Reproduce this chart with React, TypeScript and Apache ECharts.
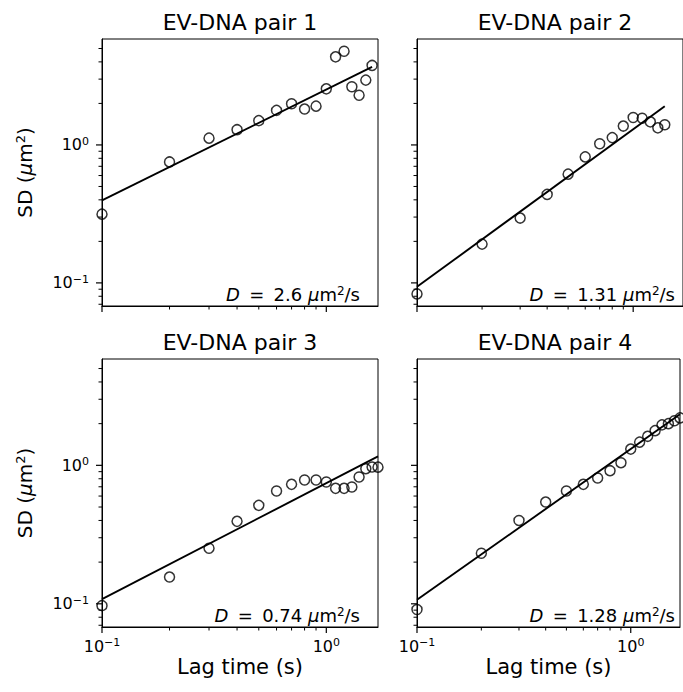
import React, { useEffect, useRef } from "react";
import * as echarts from "echarts";

// ---- data ----
const lagTimes = [0.1, 0.2, 0.3, 0.4, 0.5, 0.6, 0.7, 0.8, 0.9, 1.0, 1.1, 1.2, 1.3, 1.4, 1.5, 1.6, 1.7];
const pairTitles = ["EV-DNA pair 1", "EV-DNA pair 2", "EV-DNA pair 3", "EV-DNA pair 4"];
const diffusionLabels = ["2.6", "1.31", "0.74", "1.28"];
const sdPair1 = [0.315, 0.753, 1.12, 1.29, 1.5, 1.78, 1.99, 1.82, 1.91, 2.55, 4.35, 4.78, 2.64, 2.29, 2.95, 3.77];
const sdPair2 = [0.0832, 0.191, 0.295, 0.438, 0.614, 0.819, 1.02, 1.13, 1.37, 1.58, 1.56, 1.47, 1.33, 1.4];
const sdPair3 = [0.097, 0.156, 0.252, 0.394, 0.514, 0.652, 0.729, 0.783, 0.783, 0.758, 0.682, 0.682, 0.697, 0.823, 0.946, 0.973, 0.97];
const sdPair4 = [0.091, 0.232, 0.4, 0.543, 0.652, 0.729, 0.81, 0.915, 1.045, 1.31, 1.47, 1.62, 1.78, 1.96, 2.0, 2.1, 2.2];
const fitTimes = [[0.1, 1.6], [0.1, 1.4], [0.1, 1.7], [0.1, 1.7]];
const fitValues = [[0.396, 3.68], [0.0936, 1.91], [0.108, 1.16], [0.107, 2.34]];
const xMajorTicks = [0.1, 1];
const xMinorTicks = [0.2, 0.3, 0.4, 0.5, 0.6, 0.7, 0.8, 0.9];
const yMajorTicks = [0.1, 1];
const yMinorTicks = [0.07, 0.08, 0.09, 0.2, 0.3, 0.4, 0.5, 0.6, 0.7, 0.8, 0.9, 2, 3, 4, 5];
const xRange = [0.1, 1.7];
const yRange = [0.068, 5.86];

const FONT = '"DejaVu Sans", sans-serif';
const GRIDS = [
  { left: 102, top: 39, width: 276, height: 267 },
  { left: 417, top: 39, width: 276, height: 267 },
  { left: 102, top: 359, width: 276, height: 268 },
  { left: 417, top: 359, width: 276, height: 268 },
];

const powLabel = (v: number) => {
  const l = Math.log10(v);
  const r = Math.round(l);
  if (Math.abs(l - r) > 1e-6) return "";
  return `{b|10}{s|${r < 0 ? "\u2212" + -r : r}}`;
};
const labelRich = {
  b: { fontSize: 16, fontFamily: FONT, color: "#000" },
  s: { fontSize: 11, fontFamily: FONT, color: "#000", verticalAlign: "top", padding: [0, 0, 7, 0] },
};
const nameRich = {
  n: { fontSize: 20, fontFamily: FONT, color: "#000" },
  i: { fontSize: 20, fontFamily: FONT, color: "#000", fontStyle: "italic" },
  s: { fontSize: 13, fontFamily: FONT, color: "#000", verticalAlign: "top", padding: [0, 0, 8, 0] },
};

export default function App() {
  const ref = useRef<HTMLDivElement>(null);
  useEffect(() => {
    if (!ref.current) return;
    const chart = echarts.init(ref.current, undefined, { renderer: "svg" });
    const seriesData = [sdPair1, sdPair2, sdPair3, sdPair4];
    const tickData: number[][] = [];
    xMajorTicks.forEach((v) => tickData.push([v, yRange[0], 0, 1]));
    xMinorTicks.forEach((v) => tickData.push([v, yRange[0], 0, 0]));
    yMajorTicks.forEach((v) => tickData.push([xRange[0], v, 1, 1]));
    yMinorTicks.forEach((v) => tickData.push([xRange[0], v, 1, 0]));

    const series: any[] = [];
    const graphic: any[] = [];
    GRIDS.forEach((g, i) => {
      series.push({
        type: "custom",
        xAxisIndex: i,
        yAxisIndex: i,
        clip: false,
        silent: true,
        data: tickData,
        renderItem: (params: any, api: any) => {
          const kind = api.value(2);
          const major = api.value(3);
          const p = api.coord([api.value(0), api.value(1)]);
          const len = major ? 6 : 3.5;
          const lw = major ? 1.2 : 1;
          const shape =
            kind === 0
              ? { x1: p[0], y1: p[1], x2: p[0], y2: p[1] + len }
              : { x1: p[0] - len, y1: p[1], x2: p[0], y2: p[1] };
          return { type: "line", shape, style: { stroke: "#000", lineWidth: lw } };
        },
      });
      series.push({
        type: "line",
        xAxisIndex: i,
        yAxisIndex: i,
        data: fitTimes[i].map((t, k) => [t, fitValues[i][k]]),
        showSymbol: false,
        symbol: "none",
        clip: true,
        lineStyle: { color: "#000", width: 1.9 },
        z: 3,
      });
      series.push({
        type: "scatter",
        xAxisIndex: i,
        yAxisIndex: i,
        clip: true,
        symbol: "circle",
        symbolSize: 10,
        data: seriesData[i].map((v, k) => [lagTimes[k], v]),
        itemStyle: { color: "rgba(0,0,0,0)", borderColor: "#000", borderWidth: 1.5 },
        z: 4,
      });
      graphic.push({
        type: "text",
        x: g.left + g.width / 2,
        y: g.top - 17,
        style: {
          text: pairTitles[i],
          fontSize: 22,
          fontFamily: FONT,
          fill: "#000",
          align: "center",
          verticalAlign: "middle",
        },
      });
      graphic.push({
        type: "text",
        x: g.left + g.width - 18,
        y: g.top + g.height - 3,
        style: {
          text: `{i|D} \u2009= \u2009${diffusionLabels[i]} {i|\u03bc}m{s|2}/s`,
          fontSize: 18,
          fontFamily: FONT,
          fill: "#000",
          align: "right",
          verticalAlign: "bottom",
          rich: {
            i: { fontSize: 18, fontFamily: FONT, fontStyle: "italic", fill: "#000" },
            s: { fontSize: 12, fontFamily: FONT, fill: "#000", verticalAlign: "top" },
          },
        },
      });
    });

    const option: any = {
      animation: false,
      backgroundColor: "#fff",
      grid: GRIDS.map((g) => ({ ...g, show: true, borderColor: "#000", borderWidth: 1, backgroundColor: "transparent" })),
      xAxis: GRIDS.map((g, i) => ({
        type: "log",
        logBase: 10,
        gridIndex: i,
        min: xRange[0],
        max: xRange[1],
        axisLine: { show: true, lineStyle: { color: "#000", width: 1 } },
        axisTick: { show: false },
        splitLine: { show: false },
        minorTick: { show: false },
        axisLabel: {
          show: i >= 2,
          margin: 10,
          formatter: powLabel,
          rich: labelRich,
          showMinLabel: true,
          showMaxLabel: true,
        },
        name: i >= 2 ? "Lag time (s)" : "",
        nameLocation: "middle",
        nameGap: 29,
        nameTextStyle: { fontSize: 21, fontFamily: FONT, color: "#000" },
      })),
      yAxis: GRIDS.map((g, i) => ({
        type: "log",
        logBase: 10,
        gridIndex: i,
        min: yRange[0],
        max: yRange[1],
        axisLine: { show: true, lineStyle: { color: "#000", width: 1 } },
        axisTick: { show: false },
        splitLine: { show: false },
        minorTick: { show: false },
        axisLabel: {
          show: i % 2 === 0,
          margin: 13,
          formatter: powLabel,
          rich: labelRich,
        },
        name: i % 2 === 0 ? "{n|SD (}{i|\u03bc}{n|m}{s|2}{n|)}" : "",
        nameLocation: "middle",
        nameRotate: 90,
        nameGap: 67,
        nameTextStyle: { fontSize: 20, fontFamily: FONT, color: "#000", rich: nameRich },
      })),
      series,
      graphic,
    };
    chart.setOption(option);
    return () => chart.dispose();
  }, []);
  return (
    <div
      ref={ref}
      style={{ position: "absolute", left: 0, top: 0, width: 683, height: 692, background: "#fff" }}
    />
  );
}
